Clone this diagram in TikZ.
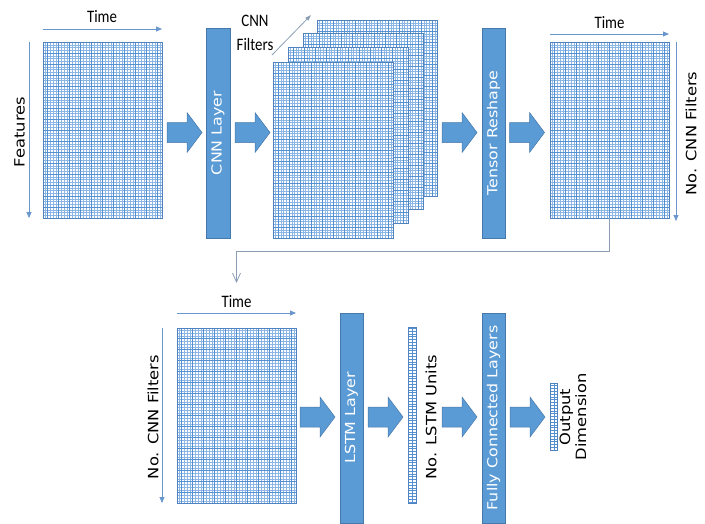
\documentclass[tikz,border=0pt]{standalone}
\usepackage{fontspec}
\setmainfont{DejaVu Sans}
\newfontfamily\vfont[FakeStretch=1.15]{DejaVu Sans}
\newfontfamily\cfont[FakeStretch=0.85]{Carlito}
\usetikzlibrary{arrows.meta}
\definecolor{bblue}{RGB}{91,155,213}
\definecolor{bdark}{RGB}{70,120,170}
\definecolor{gfine}{RGB}{140,182,228}
\definecolor{gcoarse}{RGB}{85,145,208}
\definecolor{gedge}{RGB}{80,130,190}
\definecolor{axisc}{RGB}{105,150,205}
\definecolor{connc}{RGB}{140,158,182}
\tikzset{
  gridbox/.style 2 args={rectangle, draw=gedge, line width=0.8pt, fill=white,
    inner sep=0pt, outer sep=0pt, anchor=north west,
    minimum width=#1pt, minimum height=#2pt,
    path picture={
      \draw[gfine, line width=0.45pt, step=2.75pt]
        (path picture bounding box.south west) grid (path picture bounding box.north east);
      \draw[gcoarse, line width=0.7pt, step=11pt]
        (path picture bounding box.south west) grid (path picture bounding box.north east);
    }},
  vecbox/.style 2 args={rectangle, draw=gedge, line width=0.7pt, fill=white,
    inner sep=0pt, outer sep=0pt,
    minimum width=#1pt, minimum height=#2pt,
    path picture={
      \draw[gcoarse, line width=0.6pt, xstep=1000pt, ystep=2.8pt]
        (path picture bounding box.south west) grid (path picture bounding box.north east);
    }},
  barbox/.style={rectangle, fill=bblue, draw=bdark, line width=0.5pt,
    rotate=90, minimum width=210pt, minimum height=23.5pt, inner sep=0pt,
    text=white, font=\vfont\fontsize{13.8}{16}\selectfont},
  blockarrow/.style={fill=bblue, draw=bdark, line width=0.5pt, line join=miter},
  vlabel/.style={rotate=90, text=black, inner sep=0pt,
    font=\vfont\fontsize{14.2}{16}\selectfont},
  tlabel/.style={text=black, inner sep=0pt, anchor=base,
    font=\cfont\fontsize{17.5}{24}\selectfont},
  axisarrow/.style={draw=axisc, line width=0.8pt,
    -{Triangle[length=6pt,width=5pt]}},
  connector/.style={draw=connc, line width=0.8pt,
    -{Straight Barb[length=9pt,width=8pt,line width=0.8pt]}}
}
% block arrow centred on a named coordinate
\newcommand\blockarr[3]{%
  \coordinate (#1) at (#2,#3);
  \draw[blockarrow] (#1) ++(-17.5,-10) -- ++(20,0) -- ++(0,-10) -- ++(15,20)
    -- ++(-15,20) -- ++(0,-10) -- ++(-20,0) -- cycle;}
\begin{document}
\begin{tikzpicture}[x=1pt,y=-1pt]
\useasboundingbox (0,0) rectangle (705,523);

% ---- top row ----
\node[gridbox={119}{176}] (g1) at (43,42) {};
\draw[axisarrow] ([yshift=13pt]g1.north west) -- ([yshift=13pt]g1.north east);
\draw[axisarrow] ([xshift=-14pt]g1.north west) -- ([xshift=-14pt]g1.south west);
\node[tlabel] (t1) at (102,22) {Time};
\node[vlabel] (feat) at (19.5,132) {Features};

\blockarr{a1}{184.5}{132.5}
\node[barbox] (cnn) at (218,133) {CNN Layer};
\blockarr{a2}{252.5}{132.5}

\node[gridbox={120}{176}] (s4) at (317,20) {};
\node[gridbox={120}{176}] (s3) at (303,33) {};
\node[gridbox={120}{176}] (s2) at (288,47) {};
\node[gridbox={120}{176}] (s1) at (273,62) {};
\node[tlabel] (cf1) at (255,26) {CNN};
\node[tlabel] (cf2) at (255,50) {Filters};
\coordinate (fa) at (272,55);
\coordinate (fb) at (311,15);
\draw[axisarrow, draw=connc, -{Triangle[length=6pt,width=4pt]}] (fa) -- (fb);

\blockarr{a3}{459.5}{132.5}
\node[barbox] (tr) at (493.5,133) {Tensor Reshape};
\blockarr{a4}{527}{132.5}

\node[gridbox={119}{176}] (g5) at (550,42) {};
\draw[axisarrow] ([yshift=8pt]g5.north west) -- ([yshift=8pt]g5.north east);
\draw[axisarrow] ([xshift=7pt]g5.north east) -- ([xshift=7pt,yshift=-3pt]g5.south east);
\node[tlabel] (t5) at (609.5,28) {Time};
\node[vlabel] (ncf1) at (691,133.5) {No. CNN Filters};

% ---- connector ----
\coordinate (cend) at (236.5,283);
\draw[connector] (g5.south) -- ++(0,33) -| (cend);

% ---- bottom row ----
\node[gridbox={119}{175}] (g6) at (177,328) {};
\draw[axisarrow] ([yshift=15pt]g6.north west) -- ([yshift=15pt]g6.north east);
\draw[axisarrow] ([xshift=-15pt]g6.north west) -- ([xshift=-15pt]g6.south west);
\node[tlabel] (t6) at (236.5,307) {Time};
\node[vlabel] (ncf2) at (153,417) {No. CNN Filters};

\blockarr{a5}{317.5}{417}
\node[barbox] (lstm) at (351.5,418) {LSTM Layer};
\blockarr{a6}{385.5}{417}
\node[vecbox={8}{176}] (lv) at (412,415) {};
\node[vlabel] (nlu) at (431,417) {No. LSTM Units};
\blockarr{a7}{459.5}{417}
\node[barbox] (fc) at (493.5,418) {Fully Connected Layers};
\blockarr{a8}{527.5}{417}
\node[vecbox={6.5}{67}] (ov) at (554,416.5) {};
\node[vlabel, align=center] (od) at (573,417) {Output\\Dimension};
\end{tikzpicture}
\end{document}
